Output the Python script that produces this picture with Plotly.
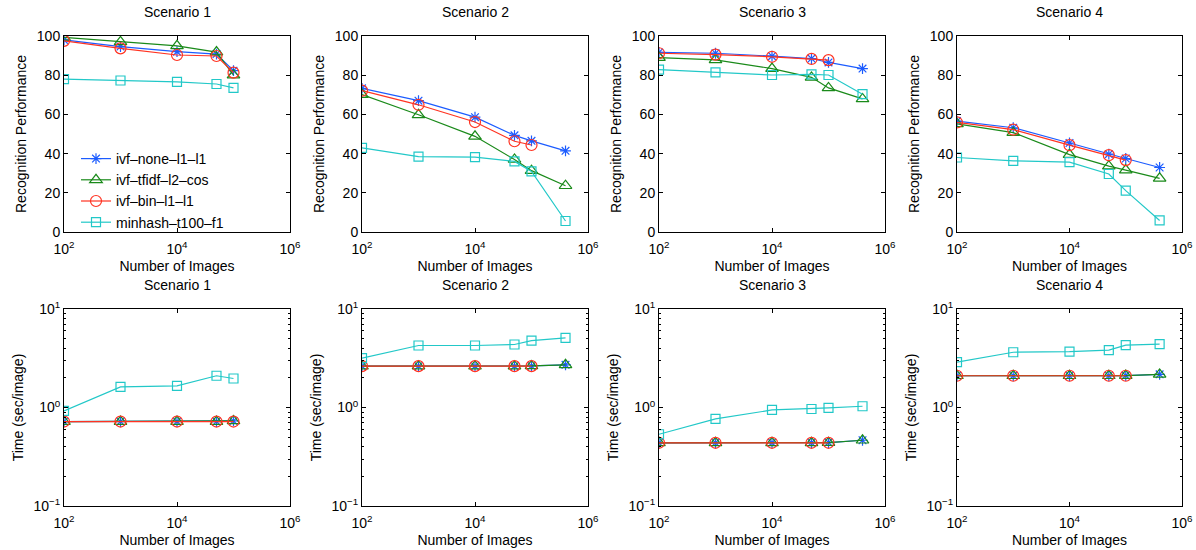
import plotly.graph_objects as go

# ---------------- data ----------------
series_names = ["ivf\u2013none\u2013l1\u2013l1", "ivf\u2013tfidf\u2013l2\u2013cos",
                "ivf\u2013bin\u2013l1\u2013l1", "minhash\u2013t100\u2013f1"]
scenarios = ["Scenario 1", "Scenario 2", "Scenario 3", "Scenario 4"]

x_s1 = [1e2, 1e3, 1e4, 5e4, 1e5]
x_full = [1e2, 1e3, 1e4, 5e4, 1e5, 4e5]
x_short = [1e2, 1e3, 1e4, 5e4, 1e5]

# Recognition performance
perf_s1_none = [98.0, 94.6, 92.0, 90.8, 82.3]
perf_s1_tfidf = [99.3, 97.0, 95.0, 91.8, 80.0]
perf_s1_bin = [97.5, 93.7, 90.3, 89.8, 81.3]
perf_s1_minhash = [78.0, 77.3, 76.6, 75.5, 73.5]

perf_s2_none = [73.3, 67.0, 58.6, 49.3, 46.5, 41.4]
perf_s2_tfidf = [70.1, 59.8, 48.8, 37.0, 31.3, 23.6]
perf_s2_bin = [72.1, 64.9, 56.1, 46.3, 44.4]
perf_s2_minhash = [42.9, 38.5, 38.2, 36.0, 30.9, 5.6]

perf_s3_none = [91.6, 91.2, 89.7, 88.5, 86.5, 83.4]
perf_s3_tfidf = [89.0, 87.8, 83.4, 78.9, 73.5, 67.9]
perf_s3_bin = [91.2, 90.5, 89.4, 88.3, 87.7]
perf_s3_minhash = [82.8, 81.4, 80.1, 80.4, 80.1, 70.3]

perf_s4_none = [56.6, 53.2, 45.4, 39.7, 37.5, 32.9]
perf_s4_tfidf = [55.2, 50.7, 39.5, 33.6, 31.6, 27.4]
perf_s4_bin = [55.9, 52.2, 44.3, 39.2, 36.7]
perf_s4_minhash = [38.0, 36.3, 35.6, 29.6, 21.1, 5.9]

# Time (sec/image)
time_s1_none = [0.72, 0.72, 0.72, 0.72, 0.73]
time_s1_tfidf = [0.72, 0.72, 0.72, 0.72, 0.73]
time_s1_bin = [0.72, 0.72, 0.72, 0.72, 0.72]
time_s1_minhash = [0.925, 1.62, 1.66, 2.10, 1.97]

time_s2_none = [2.63, 2.63, 2.63, 2.63, 2.64, 2.71]
time_s2_tfidf = [2.63, 2.63, 2.63, 2.63, 2.64, 2.71]
time_s2_bin = [2.63, 2.63, 2.63, 2.63, 2.63]
time_s2_minhash = [3.17, 4.26, 4.26, 4.36, 4.78, 5.09]

time_s3_none = [0.438, 0.438, 0.438, 0.438, 0.440, 0.465]
time_s3_tfidf = [0.438, 0.438, 0.438, 0.438, 0.440, 0.465]
time_s3_bin = [0.438, 0.438, 0.438, 0.438, 0.438]
time_s3_minhash = [0.535, 0.765, 0.944, 0.966, 0.989, 1.03]

time_s4_none = [2.10, 2.10, 2.10, 2.10, 2.11, 2.17]
time_s4_tfidf = [2.10, 2.10, 2.10, 2.10, 2.11, 2.17]
time_s4_bin = [2.10, 2.10, 2.10, 2.10, 2.10]
time_s4_minhash = [2.89, 3.64, 3.70, 3.82, 4.29, 4.39]

x_ticks = [1e2, 1e4, 1e6]
x_ticktext = ["10<sup>2</sup>", "10<sup>4</sup>", "10<sup>6</sup>"]
perf_ticks = [0, 20, 40, 60, 80, 100]
time_ticks = [0.1, 1, 10]
time_ticktext = ["10<sup>\u22121</sup>", "10<sup>0</sup>", "10<sup>1</sup>"]
time_minor = [0.2, 0.3, 0.4, 0.5, 0.6, 0.7, 0.8, 0.9, 2, 3, 4, 5, 6, 7, 8, 9]

# ---------------- styling ----------------
colors = ["#1c5cff", "#1a8a1a", "#ff3322", "#22c8c8"]
symbols = ["asterisk-open", "triangle-up-open", "circle-open", "square-open"]
msizes = [9, 11, 11, 9]

W, H = 1196, 550
px_x = [(64, 290), (362, 588), (659, 885), (957, 1182)]
px_y = [(36, 232), (309, 506)]

font_fam = "Liberation Sans, Arial, Helvetica, sans-serif"
FS = 14

perf_data = [
    [perf_s1_none, perf_s1_tfidf, perf_s1_bin, perf_s1_minhash],
    [perf_s2_none, perf_s2_tfidf, perf_s2_bin, perf_s2_minhash],
    [perf_s3_none, perf_s3_tfidf, perf_s3_bin, perf_s3_minhash],
    [perf_s4_none, perf_s4_tfidf, perf_s4_bin, perf_s4_minhash],
]
x_data = [
    [x_s1, x_s1, x_s1, x_s1],
    [x_full, x_full, x_short, x_full],
    [x_full, x_full, x_short, x_full],
    [x_full, x_full, x_short, x_full],
]
time_data = [
    [time_s1_none, time_s1_tfidf, time_s1_bin, time_s1_minhash],
    [time_s2_none, time_s2_tfidf, time_s2_bin, time_s2_minhash],
    [time_s3_none, time_s3_tfidf, time_s3_bin, time_s3_minhash],
    [time_s4_none, time_s4_tfidf, time_s4_bin, time_s4_minhash],
]

fig = go.Figure()
layout = {}
annotations = []


def axis_common():
    return dict(showline=True, linecolor="black", linewidth=1, mirror="ticks",
                ticks="inside", ticklen=4, tickcolor="black", showgrid=False,
                zeroline=False, automargin=False,
                tickfont=dict(family=font_fam, size=FS, color="black"))


for row in range(2):
    for col in range(4):
        idx = row * 4 + col + 1
        xa = "x" if idx == 1 else f"x{idx}"
        ya = "y" if idx == 1 else f"y{idx}"
        xkey = "xaxis" if idx == 1 else f"xaxis{idx}"
        ykey = "yaxis" if idx == 1 else f"yaxis{idx}"
        x0, x1 = px_x[col]
        y0, y1 = px_y[row]
        xd = [x0 / W, x1 / W]
        yd = [1 - y1 / H, 1 - y0 / H]

        xax = axis_common()
        xax.update(type="log", range=[2, 6], domain=xd, anchor=ya,
                   tickvals=x_ticks, ticktext=x_ticktext, ticklabelstandoff=4,
                   title=dict(text="Number of Images", standoff=5,
                              font=dict(family=font_fam, size=FS, color="black")))
        yax = axis_common()
        if row == 0:
            yax.update(range=[0, 100], domain=yd, anchor=xa, tickvals=perf_ticks,
                       title=dict(text="Recognition Performance", standoff=6,
                                  font=dict(family=font_fam, size=FS, color="black")))
        else:
            yax.update(type="log", range=[-1, 1], domain=yd, anchor=xa,
                       tickvals=time_ticks, ticktext=time_ticktext,
                       minor=dict(ticks="inside", ticklen=2, tickcolor="black",
                                  tickvals=time_minor),
                       title=dict(text="Time (sec/image)", standoff=6,
                                  font=dict(family=font_fam, size=FS, color="black")))
        layout[xkey] = xax
        layout[ykey] = yax

        annotations.append(dict(text=scenarios[col], x=(xd[0] + xd[1]) / 2,
                                y=1 - (y0 - 24) / H, xref="paper", yref="paper",
                                xanchor="center", yanchor="middle", showarrow=False,
                                font=dict(family=font_fam, size=FS, color="black")))

        ys = perf_data[col] if row == 0 else time_data[col]
        xs = x_data[col]
        for s in range(4):
            fig.add_trace(go.Scatter(
                x=xs[s], y=ys[s], xaxis=xa, yaxis=ya,
                mode="lines+markers", name=series_names[s],
                showlegend=(idx == 1),
                line=dict(color=colors[s], width=1.2),
                marker=dict(symbol=symbols[s], size=msizes[s], color=colors[s],
                            line=dict(color=colors[s], width=1.2)),
            ))

fig.update_layout(**layout)
fig.update_layout(
    width=W, height=H, autosize=False,
    margin=dict(l=0, r=0, t=0, b=0, pad=0, autoexpand=False),
    paper_bgcolor="white", plot_bgcolor="white",
    annotations=annotations,
    font=dict(family=font_fam, size=FS, color="black"),
    legend=dict(x=76 / W, y=1 - 143 / H, xanchor="left", yanchor="top",
                bgcolor="rgba(0,0,0,0)", borderwidth=0,
                font=dict(family=font_fam, size=FS, color="black"),
                tracegroupgap=0, itemwidth=30),
)

fig.write_html("out.html", config={"displayModeBar": False},
               post_script="document.body.style.margin='0';document.body.style.padding='0';document.body.style.overflow='hidden';")
